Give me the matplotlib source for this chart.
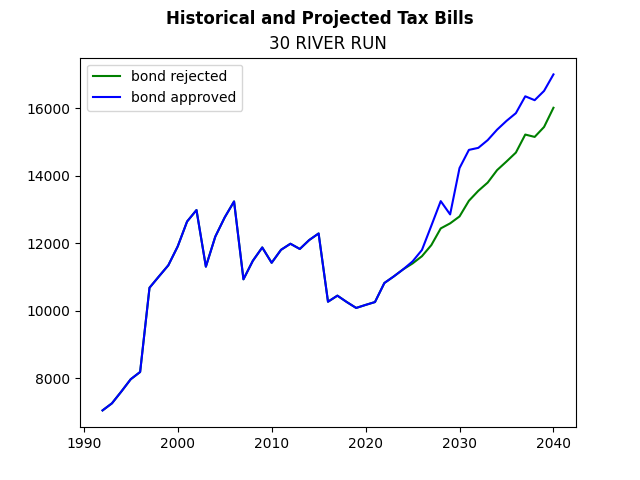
import matplotlib
matplotlib.use("Agg")
import matplotlib.pyplot as plt

years = list(range(1992, 2041))

historical = [7040, 7250, 7600, 7965, 8180, 10680, 11015, 11345, 11905, 12645,
              12985, 11305, 12195, 12765, 13240, 10930, 11480, 11875, 11420, 11805,
              11985, 11830, 12095, 12290, 10265, 10445, 10255, 10080, 10170, 10255,
              10820, 11015, 11225]

rejected_future = [11400, 11615, 11945, 12440, 12590, 12795, 13260, 13555, 13800,
                   14170, 14425, 14690, 15225, 15155, 15450, 16020]

approved_future = [11460, 11800, 12520, 13250, 12855, 14230, 14770, 14830, 15060,
                   15370, 15630, 15860, 16360, 16245, 16520, 17010]

bond_rejected = historical + rejected_future
bond_approved = historical + approved_future

fig, ax = plt.subplots(figsize=(6.4, 4.8), dpi=100)
ax.plot(years, bond_rejected, color='green', label='bond rejected')
ax.plot(years, bond_approved, color='blue', label='bond approved')
fig.suptitle('Historical and Projected Tax Bills', fontweight='bold')
ax.set_title('30 RIVER RUN')
ax.legend(loc='upper left')
fig.savefig('out.png')
